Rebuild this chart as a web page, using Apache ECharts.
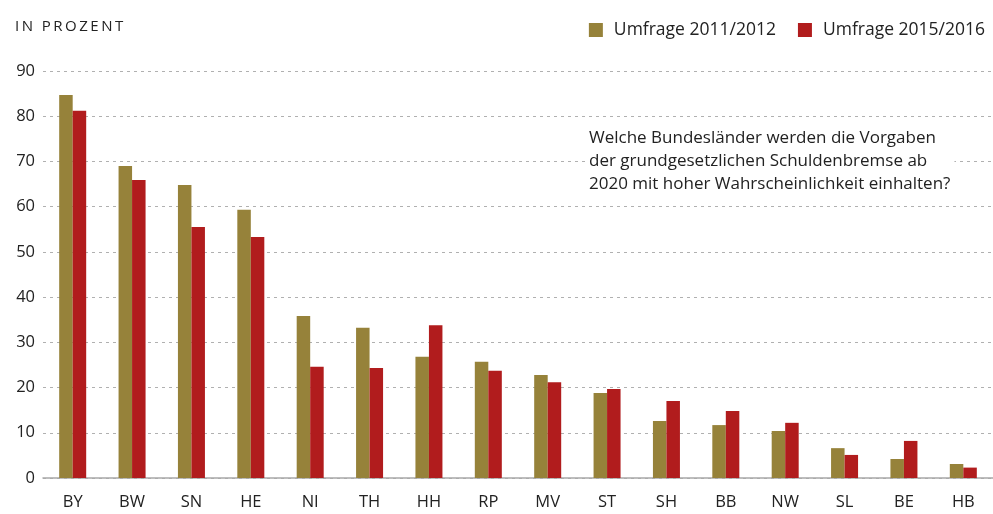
<!DOCTYPE html>
<html>
<head>
<meta charset="utf-8">
<script src="https://cdn.jsdelivr.net/npm/echarts@6/dist/echarts.min.js"></script>
<style>
  html, body { margin: 0; padding: 0; background: #fff; }
  #chart { width: 993px; height: 514px; }
</style>
</head>
<body>
<div id="chart"></div>
<script>
// Bundesländer
const laender = ['BY', 'BW', 'SN', 'HE', 'NI', 'TH', 'HH', 'RP', 'MV', 'ST', 'SH', 'BB', 'NW', 'SL', 'BE', 'HB'];
// Anteil in Prozent
const umfrage1112 = [84.7, 69.0, 64.8, 59.3, 35.8, 33.2, 26.8, 25.7, 22.8, 18.8, 12.6, 11.7, 10.4, 6.6, 4.2, 3.1];
const umfrage1516 = [81.2, 65.9, 55.5, 53.3, 24.6, 24.3, 33.8, 23.7, 21.2, 19.7, 17.0, 14.8, 12.2, 5.1, 8.2, 2.3];
const yTicks = [0, 10, 20, 30, 40, 50, 60, 70, 80, 90];

const fontFam = '"Open Sans", "Noto Sans", sans-serif';
const olive = '#96823a';
const rot = '#b11c1d';

// gesperrte Schrift fuer die Einheit
const einheit = 'IN PROZENT'.split('').join('\u2009');

const chart = echarts.init(document.getElementById('chart'));
chart.setOption({
    animation: false,
    textStyle: { fontFamily: fontFam },
    grid: { left: 43, right: -7, top: 71, bottom: 36 },
    legend: {
        right: 3,
        top: 16,
        itemWidth: 14,
        itemHeight: 14,
        itemGap: 22,
        icon: 'rect',
        textStyle: { fontSize: 17.5, color: '#222', fontFamily: fontFam, padding: [0, 0, 0, 6] },
        data: ['Umfrage 2011/2012', 'Umfrage 2015/2016']
    },
    xAxis: {
        type: 'category',
        data: laender,
        axisLine: { lineStyle: { color: '#a8a8a8', width: 1.5 } },
        axisTick: { length: 15, lineStyle: { color: '#a8a8a8', width: 1.5 } },
        axisLabel: { fontSize: 16.5, color: '#222', margin: 16 }
    },
    yAxis: {
        type: 'value',
        min: yTicks[0],
        max: yTicks[yTicks.length - 1],
        interval: 10,
        axisLine: { show: false },
        axisTick: { show: false },
        axisLabel: { fontSize: 16.5, color: '#222', margin: 8 },
        splitLine: { lineStyle: { color: '#b0b0b0', type: [3, 4], width: 1.2 } }
    },
    graphic: [
        {
            type: 'text',
            left: 15,
            top: 19,
            style: {
                text: einheit,
                font: '15px ' + fontFam,
                fill: '#222'
            }
        },
        {
            type: 'text',
            left: 585,
            top: 127,
            z: 10,
            style: {
                text: 'Welche Bundesländer werden die Vorgaben\nder grundgesetzlichen Schuldenbremse ab\n2020 mit hoher Wahrscheinlichkeit einhalten?',
                font: '17px ' + fontFam,
                fill: '#222',
                lineHeight: 23,
                backgroundColor: '#fff',
                padding: [0, 4, 0, 4]
            }
        }
    ],
    series: [
        {
            name: 'Umfrage 2011/2012',
            type: 'bar',
            data: umfrage1112,
            itemStyle: { color: olive },
            barWidth: 13.5,
            barGap: '0%'
        },
        {
            name: 'Umfrage 2015/2016',
            type: 'bar',
            data: umfrage1516,
            itemStyle: { color: rot },
            barWidth: 13.5,
            barGap: '0%'
        }
    ]
});
</script>
</body>
</html>
